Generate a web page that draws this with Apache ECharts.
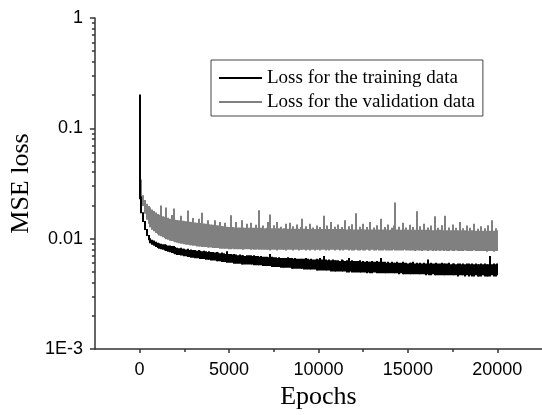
<!DOCTYPE html>
<html>
<head>
<meta charset="utf-8">
<script src="https://cdn.jsdelivr.net/npm/echarts@6/dist/echarts.min.js"></script>
<style>html,body{margin:0;padding:0;background:#fff}#c{width:542px;height:415px}</style>
</head>
<body>
<div id="c"></div>
<script>
// ---------- data (min / max loss within each sampled bin) ----------
const earlyEpochs = [0, 10, 20, 35, 50, 70];
const sampleStart = 100, sampleStep = 100; // regular bins from 100 to 20000

const trainEarlyHigh = [0.2, 0.032, 0.029, 0.026, 0.024, 0.022];
const trainEarlyLow  = [0.030, 0.028, 0.025, 0.023, 0.021, 0.0195];
const trainHigh = [
  0.0205, 0.0172, 0.0143, 0.0121, 0.0107, 0.0100, 0.0097, 0.0095, 0.0093, 0.0091,
  0.0090, 0.0089, 0.0088, 0.0088, 0.0087, 0.0086, 0.0086, 0.0085, 0.0085, 0.0083,
  0.0082, 0.0081, 0.0082, 0.0080, 0.0080, 0.0079, 0.0080, 0.0078, 0.0079, 0.0078,
  0.0078, 0.0077, 0.0078, 0.0077, 0.0076, 0.0077, 0.0076, 0.0075, 0.0076, 0.0075,
  0.0075, 0.0074, 0.0075, 0.0074, 0.0073, 0.0074, 0.0073, 0.0072, 0.0076, 0.0072,
  0.0072, 0.0071, 0.0072, 0.0071, 0.0070, 0.0071, 0.0070, 0.0070, 0.0069, 0.0070,
  0.0070, 0.0070, 0.0069, 0.0070, 0.0069, 0.0069, 0.0068, 0.0069, 0.0068, 0.0068,
  0.0068, 0.0067, 0.0072, 0.0068, 0.0067, 0.0067, 0.0066, 0.0067, 0.0066, 0.0066,
  0.0066, 0.0066, 0.0067, 0.0066, 0.0066, 0.0065, 0.0066, 0.0065, 0.0065, 0.0065,
  0.0065, 0.0065, 0.0066, 0.0065, 0.0064, 0.0065, 0.0064, 0.0064, 0.0065, 0.0064,
  0.0066, 0.0064, 0.0069, 0.0064, 0.0063, 0.0064, 0.0063, 0.0064, 0.0063, 0.0063,
  0.0063, 0.0062, 0.0064, 0.0063, 0.0062, 0.0063, 0.0066, 0.0062, 0.0063, 0.0062,
  0.0062, 0.0062, 0.0063, 0.0061, 0.0062, 0.0061, 0.0062, 0.0061, 0.0061, 0.0062,
  0.0061, 0.0061, 0.0062, 0.0061, 0.0066, 0.0061, 0.0061, 0.0060, 0.0061, 0.0060,
  0.0061, 0.0060, 0.0060, 0.0061, 0.0060, 0.0060, 0.0061, 0.0060, 0.0060, 0.0059,
  0.0060, 0.0060, 0.0061, 0.0059, 0.0060, 0.0059, 0.0060, 0.0059, 0.0060, 0.0059,
  0.0064, 0.0059, 0.0060, 0.0059, 0.0059, 0.0060, 0.0059, 0.0059, 0.0060, 0.0059,
  0.0059, 0.0059, 0.0060, 0.0058, 0.0059, 0.0059, 0.0058, 0.0059, 0.0059, 0.0058,
  0.0059, 0.0058, 0.0059, 0.0059, 0.0058, 0.0059, 0.0058, 0.0059, 0.0058, 0.0058,
  0.0059, 0.0058, 0.0059, 0.0058, 0.0058, 0.0069, 0.0058, 0.0059, 0.0058, 0.0059
];
const trainLow = [
  0.0185, 0.0152, 0.0127, 0.0110, 0.0098, 0.0092, 0.0089, 0.0087, 0.0085, 0.0083,
  0.0082, 0.0081, 0.0080, 0.0079, 0.0078, 0.0077, 0.0076, 0.0075, 0.0074, 0.0073,
  0.0072, 0.0072, 0.0071, 0.0071, 0.0070, 0.0070, 0.0069, 0.0069, 0.0068, 0.0068,
  0.0067, 0.0067, 0.0067, 0.0066, 0.0066, 0.0066, 0.0065, 0.0065, 0.0065, 0.0064,
  0.0064, 0.0064, 0.0063, 0.0063, 0.0063, 0.0062, 0.0062, 0.0062, 0.0061, 0.0061,
  0.0061, 0.0061, 0.0060, 0.0060, 0.0060, 0.0060, 0.0059, 0.0059, 0.0059, 0.0059,
  0.0059, 0.0059, 0.0059, 0.0058, 0.0058, 0.0058, 0.0058, 0.0058, 0.0057, 0.0057,
  0.0057, 0.0057, 0.0057, 0.0056, 0.0056, 0.0056, 0.0056, 0.0056, 0.0055, 0.0055,
  0.0055, 0.0055, 0.0055, 0.0055, 0.0054, 0.0054, 0.0054, 0.0054, 0.0054, 0.0054,
  0.0054, 0.0053, 0.0053, 0.0053, 0.0053, 0.0053, 0.0053, 0.0053, 0.0052, 0.0052,
  0.0052, 0.0052, 0.0052, 0.0052, 0.0052, 0.0052, 0.0051, 0.0051, 0.0051, 0.0051,
  0.0051, 0.0051, 0.0051, 0.0051, 0.0051, 0.0050, 0.0050, 0.0051, 0.0050, 0.0050,
  0.0050, 0.0050, 0.0050, 0.0050, 0.0050, 0.0050, 0.0049, 0.0050, 0.0049, 0.0049,
  0.0050, 0.0050, 0.0049, 0.0049, 0.0049, 0.0049, 0.0049, 0.0049, 0.0049, 0.0049,
  0.0049, 0.0049, 0.0049, 0.0049, 0.0048, 0.0049, 0.0048, 0.0048, 0.0048, 0.0048,
  0.0048, 0.0048, 0.0048, 0.0048, 0.0048, 0.0048, 0.0048, 0.0048, 0.0048, 0.0047,
  0.0048, 0.0047, 0.0047, 0.0048, 0.0047, 0.0047, 0.0047, 0.0047, 0.0047, 0.0047,
  0.0047, 0.0047, 0.0047, 0.0047, 0.0047, 0.0047, 0.0047, 0.0046, 0.0047, 0.0047,
  0.0047, 0.0046, 0.0047, 0.0046, 0.0047, 0.0046, 0.0046, 0.0047, 0.0046, 0.0046,
  0.0046, 0.0047, 0.0046, 0.0046, 0.0046, 0.0046, 0.0047, 0.0046, 0.0046, 0.0047
];

const valEarlyHigh = [0.072, 0.046, 0.041, 0.037, 0.034, 0.032];
const valEarlyLow  = [0.045, 0.040, 0.036, 0.033, 0.031, 0.028];
const valHigh = [
  0.0300, 0.0245, 0.0222, 0.0205, 0.0196, 0.0190, 0.0182, 0.0176, 0.0171, 0.0166,
  0.0163, 0.0198, 0.0158, 0.0156, 0.0190, 0.0153, 0.0150, 0.0162, 0.0186, 0.0147,
  0.0146, 0.0145, 0.0160, 0.0144, 0.0143, 0.0142, 0.0178, 0.0141, 0.0140, 0.0152,
  0.0139, 0.0138, 0.0150, 0.0137, 0.0170, 0.0136, 0.0135, 0.0145, 0.0134, 0.0133,
  0.0132, 0.0145, 0.0131, 0.0130, 0.0140, 0.0129, 0.0128, 0.0138, 0.0127, 0.0126,
  0.0161, 0.0126, 0.0125, 0.0140, 0.0125, 0.0125, 0.0145, 0.0125, 0.0124, 0.0135,
  0.0124, 0.0138, 0.0124, 0.0124, 0.0132, 0.0124, 0.0179, 0.0124, 0.0130, 0.0123,
  0.0124, 0.0140, 0.0164, 0.0123, 0.0131, 0.0123, 0.0140, 0.0123, 0.0127, 0.0122,
  0.0123, 0.0135, 0.0122, 0.0138, 0.0122, 0.0128, 0.0122, 0.0133, 0.0122, 0.0126,
  0.0150, 0.0122, 0.0128, 0.0121, 0.0135, 0.0122, 0.0125, 0.0121, 0.0130, 0.0121,
  0.0126, 0.0121, 0.0160, 0.0121, 0.0130, 0.0121, 0.0140, 0.0121, 0.0127, 0.0121,
  0.0133, 0.0121, 0.0126, 0.0121, 0.0145, 0.0120, 0.0128, 0.0121, 0.0134, 0.0120,
  0.0168, 0.0120, 0.0127, 0.0121, 0.0135, 0.0120, 0.0126, 0.0120, 0.0140, 0.0120,
  0.0125, 0.0120, 0.0131, 0.0120, 0.0150, 0.0120, 0.0126, 0.0120, 0.0133, 0.0119,
  0.0124, 0.0130, 0.0210, 0.0120, 0.0127, 0.0119, 0.0138, 0.0120, 0.0125, 0.0119,
  0.0132, 0.0119, 0.0126, 0.0119, 0.0175, 0.0119, 0.0128, 0.0119, 0.0135, 0.0119,
  0.0125, 0.0119, 0.0130, 0.0118, 0.0158, 0.0119, 0.0124, 0.0119, 0.0131, 0.0118,
  0.0160, 0.0118, 0.0125, 0.0118, 0.0133, 0.0118, 0.0124, 0.0118, 0.0140, 0.0118,
  0.0123, 0.0118, 0.0130, 0.0117, 0.0124, 0.0118, 0.0135, 0.0117, 0.0122, 0.0117,
  0.0128, 0.0117, 0.0123, 0.0117, 0.0131, 0.0117, 0.0145, 0.0117, 0.0123, 0.0118
];
const valLow = [
  0.0260, 0.0200, 0.0170, 0.0150, 0.0138, 0.0128, 0.0122, 0.0118, 0.0114, 0.0111,
  0.0108, 0.0106, 0.0104, 0.0102, 0.0100, 0.0099, 0.0097, 0.0096, 0.0095, 0.0094,
  0.0093, 0.0092, 0.0091, 0.0091, 0.0090, 0.0089, 0.0089, 0.0088, 0.0088, 0.0087,
  0.0087, 0.0086, 0.0086, 0.0086, 0.0085, 0.0085, 0.0085, 0.0084, 0.0084, 0.0084,
  0.0083, 0.0083, 0.0083, 0.0083, 0.0082, 0.0082, 0.0082, 0.0082, 0.0082, 0.0081,
  0.0081, 0.0082, 0.0081, 0.0081, 0.0081, 0.0081, 0.0081, 0.0080, 0.0081, 0.0081,
  0.0081, 0.0080, 0.0081, 0.0080, 0.0080, 0.0081, 0.0080, 0.0080, 0.0080, 0.0080,
  0.0080, 0.0080, 0.0079, 0.0080, 0.0080, 0.0080, 0.0079, 0.0080, 0.0080, 0.0080,
  0.0080, 0.0079, 0.0080, 0.0080, 0.0080, 0.0079, 0.0080, 0.0080, 0.0079, 0.0080,
  0.0080, 0.0080, 0.0079, 0.0080, 0.0079, 0.0080, 0.0080, 0.0079, 0.0080, 0.0080,
  0.0079, 0.0080, 0.0080, 0.0079, 0.0080, 0.0079, 0.0080, 0.0080, 0.0079, 0.0080,
  0.0080, 0.0079, 0.0080, 0.0079, 0.0080, 0.0080, 0.0079, 0.0080, 0.0079, 0.0079,
  0.0080, 0.0079, 0.0079, 0.0080, 0.0079, 0.0079, 0.0080, 0.0079, 0.0079, 0.0080,
  0.0079, 0.0079, 0.0080, 0.0079, 0.0079, 0.0079, 0.0080, 0.0079, 0.0079, 0.0079,
  0.0079, 0.0080, 0.0079, 0.0079, 0.0079, 0.0079, 0.0079, 0.0080, 0.0079, 0.0079,
  0.0079, 0.0079, 0.0079, 0.0078, 0.0079, 0.0079, 0.0079, 0.0078, 0.0079, 0.0079,
  0.0078, 0.0079, 0.0079, 0.0078, 0.0079, 0.0078, 0.0079, 0.0078, 0.0079, 0.0078,
  0.0079, 0.0078, 0.0078, 0.0079, 0.0078, 0.0078, 0.0079, 0.0078, 0.0078, 0.0078,
  0.0078, 0.0079, 0.0078, 0.0078, 0.0078, 0.0078, 0.0079, 0.0078, 0.0078, 0.0078,
  0.0078, 0.0078, 0.0078, 0.0077, 0.0078, 0.0078, 0.0078, 0.0077, 0.0078, 0.0078
];

const seriesNames = ['Loss for the training data', 'Loss for the validation data'];
const seriesColors = ['#000000', '#808080'];
const xMajorTicks = [0, 5000, 10000, 15000, 20000];
const xMinorTicks = [2500, 7500, 12500, 17500];
const yTickValues = [0.001, 0.01, 0.1, 1];
const yTickLabels = ['1E-3', '0.01', '0.1', '1'];
const yMinorTicks = [0.002,0.003,0.004,0.005,0.006,0.007,0.008,0.009,
                     0.02,0.03,0.04,0.05,0.06,0.07,0.08,0.09,
                     0.2,0.3,0.4,0.5,0.6,0.7,0.8,0.9];

// ---------- build ----------
const epochs = earlyEpochs.concat(trainHigh.map((_, i) => sampleStart + i * sampleStep));
// item: [epoch, low, high, nextLow, nextHigh]  (next values keep the band continuous)
function bins(lows, highs) {
  return epochs.map((e, i) => {
    const j = Math.min(i + 1, epochs.length - 1);
    return [e, lows[i], highs[i], lows[j], highs[j]];
  });
}
const trainBins = bins(trainEarlyLow.concat(trainLow), trainEarlyHigh.concat(trainHigh));
const valBins = bins(valEarlyLow.concat(valLow), valEarlyHigh.concat(valHigh));

function renderBin(color) {
  return function (params, api) {
    const lo = Math.min(api.value(1), api.value(4));
    const hi = Math.max(api.value(2), api.value(3));
    const pHi = api.coord([api.value(0), hi]);
    const pLo = api.coord([api.value(0), lo]);
    const x = Math.round(pHi[0]) - 1; // pixel-aligned so neighbouring bins join without seams
    return {
      type: 'rect',
      shape: {x: x, y: pHi[1] - 0.5, width: 2, height: pLo[1] - pHi[1] + 1},
      style: {fill: color}
    };
  };
}

const axisColor = '#333';
const sans = 'Liberation Sans, Arial, sans-serif';
const serif = 'Liberation Serif, Times New Roman, serif';

const chart = echarts.init(document.getElementById('c'), null, {renderer: 'canvas'});
chart.setOption({
  animation: false,
  backgroundColor: '#fff',
  grid: {left: 94, top: 18, width: 454, height: 334},
  legend: {
    left: 211, top: 60, orient: 'vertical',
    padding: [8, 8, 4, 8], itemGap: 4, itemWidth: 43, itemHeight: 2,
    borderColor: '#444', borderWidth: 1, borderRadius: 0,
    textStyle: {fontFamily: serif, fontSize: 19, color: '#000', lineHeight: 20},
    data: [{name: seriesNames[0], icon: 'rect', itemStyle: {color: seriesColors[0]}},
           {name: seriesNames[1], icon: 'rect', itemStyle: {color: seriesColors[1]}}]
  },
  xAxis: [{
    type: 'value', min: -2500, max: 22500,
    axisLine: {onZero: false, lineStyle: {color: axisColor, width: 1.5}},
    axisTick: {customValues: xMajorTicks, length: 4, lineStyle: {color: axisColor, width: 1.5}},
    axisLabel: {customValues: xMajorTicks, margin: 12, fontFamily: sans, fontSize: 18, color: '#000',
                formatter: v => String(v)},
    splitLine: {show: false},
    name: 'Epochs', nameLocation: 'middle', nameGap: 35,
    nameTextStyle: {fontFamily: serif, fontSize: 26, color: '#000'}
  }, {
    type: 'value', min: -2500, max: 22500, position: 'bottom',
    axisLine: {show: false, onZero: false},
    axisTick: {customValues: xMinorTicks, length: 3, lineStyle: {color: axisColor, width: 1.5}},
    axisLabel: {show: false}, splitLine: {show: false}
  }],
  yAxis: [{
    type: 'log', logBase: 10, min: 0.001, max: 1,
    axisLine: {show: true, onZero: false, lineStyle: {color: axisColor, width: 1.5}},
    axisTick: {show: true, length: 5, lineStyle: {color: axisColor, width: 1.5}},
    axisLabel: {
      margin: 12, fontFamily: sans, fontSize: 18, color: '#000',
      formatter: v => {
        let idx = yTickValues.findIndex(t => Math.abs(Math.log10(t) - Math.log10(v)) < 1e-6);
        return idx >= 0 ? yTickLabels[idx] : '';
      }
    },
    splitLine: {show: false},
    name: 'MSE loss', nameLocation: 'middle', nameGap: 58, nameRotate: 90,
    nameTextStyle: {fontFamily: serif, fontSize: 26, color: '#000'}
  }, {
    type: 'log', logBase: 10, min: 0.001, max: 1, position: 'left',
    axisLine: {show: false, onZero: false},
    axisTick: {show: true, customValues: yMinorTicks, length: 3, lineStyle: {color: axisColor, width: 1.5}},
    axisLabel: {show: false}, splitLine: {show: false}
  }],
  series: [{
    name: seriesNames[0], type: 'custom', data: trainBins,
    xAxisIndex: 0, yAxisIndex: 0, z: 3, encode: {x: 0, y: [1, 2]},
    itemStyle: {color: seriesColors[0]}, renderItem: renderBin(seriesColors[0])
  }, {
    name: seriesNames[1], type: 'custom', data: valBins,
    xAxisIndex: 0, yAxisIndex: 0, z: 2, encode: {x: 0, y: [1, 2]},
    itemStyle: {color: seriesColors[1]}, renderItem: renderBin(seriesColors[1])
  }]
});
</script>
</body>
</html>
